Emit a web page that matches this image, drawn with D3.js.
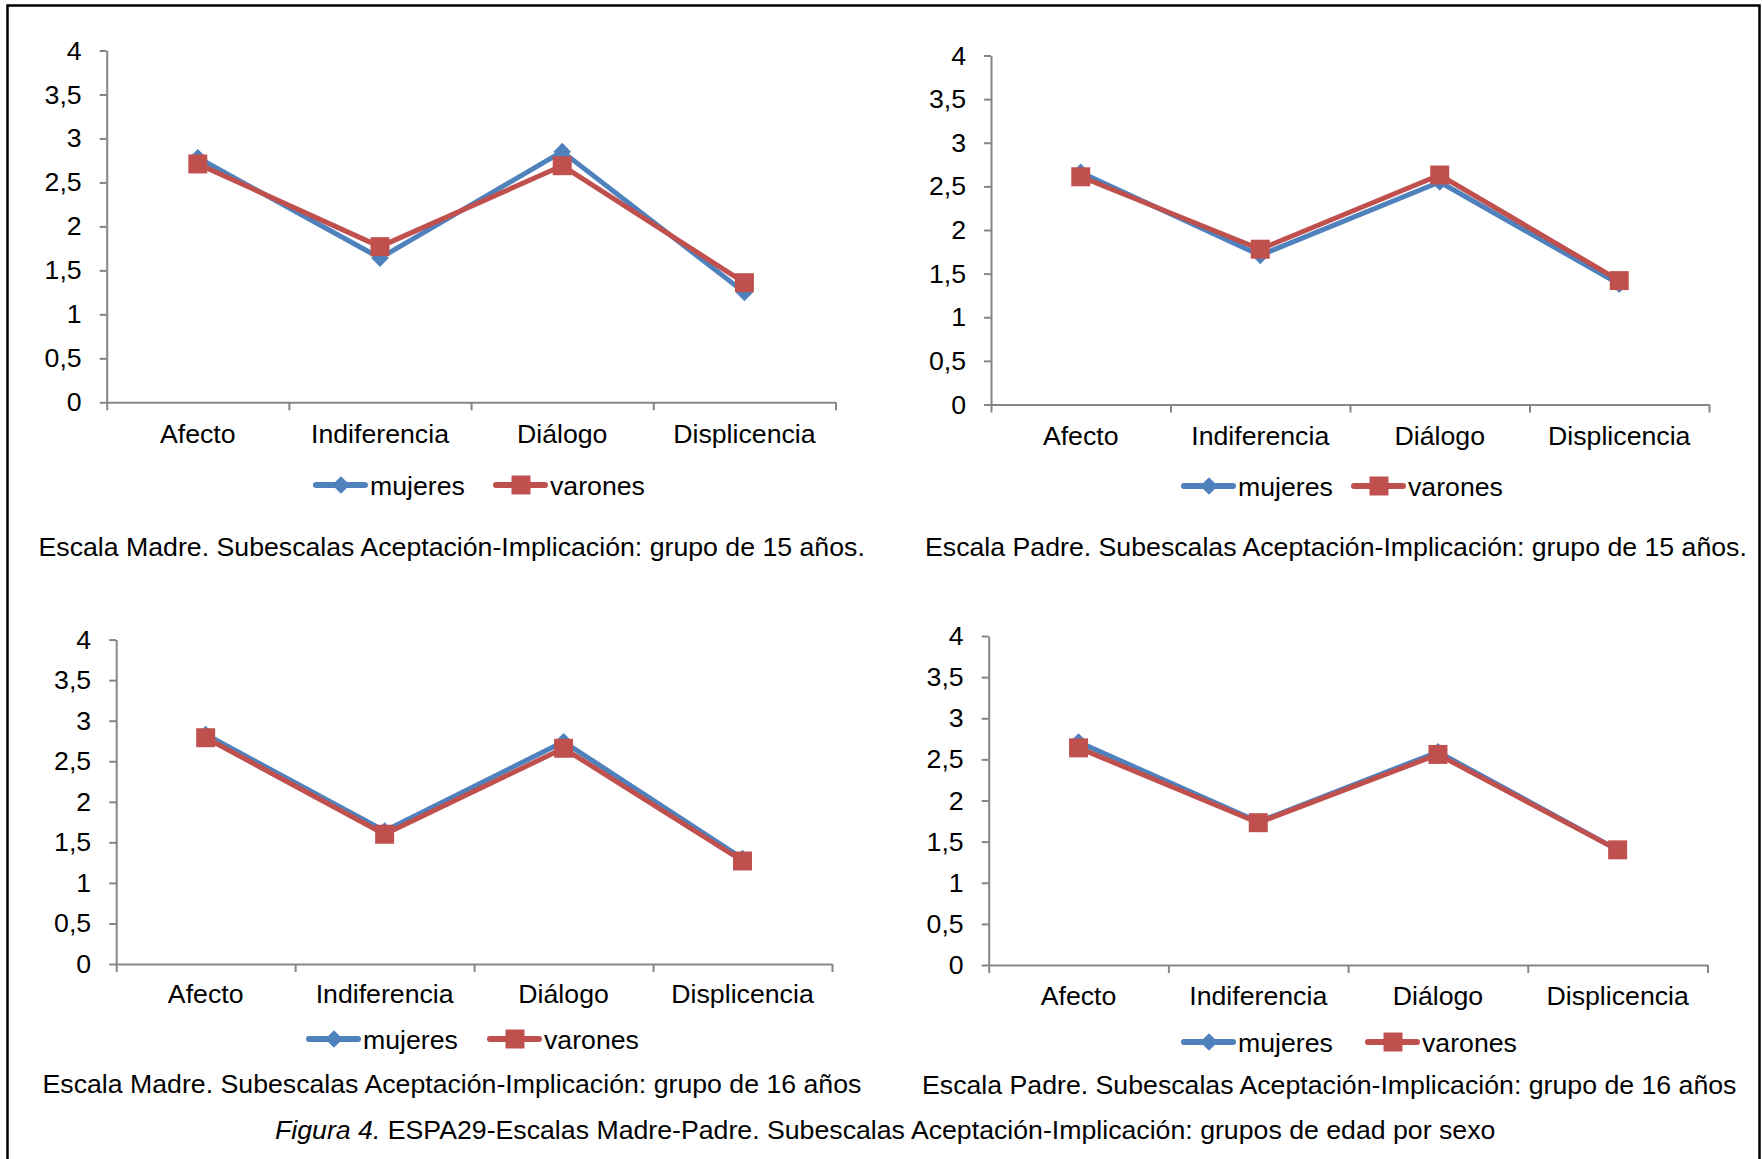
<!DOCTYPE html>
<html lang="es">
<head>
    <meta charset="UTF-8">
    <script src="https://cdn.jsdelivr.net/npm/d3@7"></script>
    <title>Figura 4</title>
    <style>
        * {
            margin: 0;
            padding: 0;
            box-sizing: border-box;
        }

        body {
            background: white;
        }

        svg text {
            font-family: "Liberation Sans", Arial, sans-serif;
            fill: black;
        }
    </style>
</head>
<body>
    <svg width="1762" height="1159"></svg>
    <script>
        let categories = ['Afecto', 'Indiferencia', 'Diálogo', 'Displicencia']
        let seriesNames = ['mujeres', 'varones']
        let yTicks = [0, 0.5, 1, 1.5, 2, 2.5, 3, 3.5, 4]

        let madre15Mujeres = [2.78, 1.64, 2.85, 1.25]
        let madre15Varones = [2.71, 1.77, 2.69, 1.36]
        let padre15Mujeres = [2.66, 1.71, 2.55, 1.38]
        let padre15Varones = [2.61, 1.78, 2.63, 1.42]
        let madre16Mujeres = [2.83, 1.64, 2.74, 1.30]
        let madre16Varones = [2.79, 1.60, 2.66, 1.27]
        let padre16Mujeres = [2.71, 1.74, 2.59, 1.40]
        let padre16Varones = [2.64, 1.73, 2.56, 1.40]

        let captions = [
            'Escala Madre. Subescalas Aceptación-Implicación: grupo de 15 años.',
            'Escala Padre. Subescalas Aceptación-Implicación: grupo de 15 años.',
            'Escala Madre. Subescalas Aceptación-Implicación: grupo de 16 años',
            'Escala Padre. Subescalas Aceptación-Implicación: grupo de 16 años'
        ]

        let colors = ['#4f81bd', '#c0504d']
        let axisColor = '#868686'
        let fontSize = 26.7

        let panels = [
            { data: [madre15Mujeres, madre15Varones], x0: 106.7, x1: 835.5, yTop: 50.5, yBottom: 402.3,
              labelY: 443, legendY: 485, legendX: [313, 493], captionX: 38.5, captionY: 556 },
            { data: [padre15Mujeres, padre15Varones], x0: 991, x1: 1709, yTop: 55.5, yBottom: 404.5,
              labelY: 445, legendY: 486, legendX: [1181, 1351], captionX: 925, captionY: 556 },
            { data: [madre16Mujeres, madre16Varones], x0: 116.2, x1: 832, yTop: 639.6, yBottom: 964,
              labelY: 1003, legendY: 1039, legendX: [306, 487], captionX: 42.5, captionY: 1093 },
            { data: [padre16Mujeres, padre16Varones], x0: 988.7, x1: 1707.5, yTop: 636, yBottom: 965,
              labelY: 1005, legendY: 1042, legendX: [1181, 1365], captionX: 922, captionY: 1094 }
        ]

        let svg = d3.select('svg')

        // outer frame (bottom edge runs past the page)
        svg.append('rect')
            .attr('x', 7.5)
            .attr('y', 5.5)
            .attr('width', 1752)
            .attr('height', 1200)
            .attr('fill', 'none')
            .attr('stroke', 'black')
            .attr('stroke-width', 2.5)

        let diamond = d3.symbol(d3.symbolDiamond2, 200)
        let square = d3.symbol(d3.symbolSquare, 360)
        let markers = [diamond, square]

        panels.forEach((p, pi) => {
            let g = svg.append('g')

            let xScale = d3.scaleBand()
                .domain(categories)
                .range([p.x0, p.x1])
                .padding(0)

            let xEdges = d3.scaleLinear()
                .domain([0, categories.length])
                .range([p.x0, p.x1])

            let yScale = d3.scaleLinear()
                .domain([0, 4])
                .range([p.yBottom, p.yTop])

            // y axis
            let yAxis = d3.axisLeft(yScale)
                .tickValues(yTicks)
                .tickFormat(d => String(d).replace('.', ','))
                .tickSize(7)
                .tickSizeOuter(0)
                .tickPadding(18)

            let ya = g.append('g')
                .attr('transform', `translate(${p.x0}, 0)`)
                .call(yAxis)
            ya.select('.domain').attr('stroke', axisColor).attr('stroke-width', 2)
            ya.selectAll('.tick line').attr('stroke', axisColor).attr('stroke-width', 2)
            ya.selectAll('.tick text')
                .attr('font-size', fontSize)
                .attr('font-family', '"Liberation Sans", Arial, sans-serif')
                .attr('fill', 'black')

            // x axis, ticks on category boundaries
            let xAxis = d3.axisBottom(xEdges)
                .tickValues(d3.range(categories.length + 1))
                .tickFormat('')
                .tickSize(8)
                .tickSizeOuter(0)

            let xa = g.append('g')
                .attr('transform', `translate(0, ${p.yBottom})`)
                .call(xAxis)
            xa.select('.domain').attr('stroke', axisColor).attr('stroke-width', 2)
            xa.selectAll('.tick line').attr('stroke', axisColor).attr('stroke-width', 2)

            g.selectAll('.cat')
                .data(categories)
                .join('text')
                .attr('class', 'cat')
                .attr('x', d => xScale(d) + xScale.bandwidth() / 2)
                .attr('y', p.labelY)
                .attr('text-anchor', 'middle')
                .attr('font-size', fontSize)
                .text(d => d)

            // series
            let line = d3.line()
                .x((d, i) => xScale(categories[i]) + xScale.bandwidth() / 2)
                .y(d => yScale(d))

            p.data.forEach((values, si) => {
                g.append('path')
                    .datum(values)
                    .attr('d', line)
                    .attr('fill', 'none')
                    .attr('stroke', colors[si])
                    .attr('stroke-width', 5)
                    .attr('stroke-linejoin', 'round')

                g.selectAll('.m' + si)
                    .data(values)
                    .join('path')
                    .attr('class', 'm' + si)
                    .attr('d', markers[si])
                    .attr('transform', (d, i) =>
                        `translate(${xScale(categories[i]) + xScale.bandwidth() / 2}, ${yScale(d)})`)
                    .attr('fill', colors[si])
            })

            // legend
            seriesNames.forEach((name, si) => {
                let lx = p.legendX[si]
                g.append('line')
                    .attr('x1', lx + 3)
                    .attr('x2', lx + 52)
                    .attr('y1', p.legendY)
                    .attr('y2', p.legendY)
                    .attr('stroke', colors[si])
                    .attr('stroke-width', 6)
                    .attr('stroke-linecap', 'round')
                g.append('path')
                    .attr('d', markers[si])
                    .attr('transform', `translate(${lx + 28}, ${p.legendY})`)
                    .attr('fill', colors[si])
                g.append('text')
                    .attr('x', lx + 57)
                    .attr('y', p.legendY + 9.5)
                    .attr('font-size', fontSize)
                    .text(name)
            })

            // caption under each chart
            g.append('text')
                .attr('x', p.captionX)
                .attr('y', p.captionY)
                .attr('font-size', fontSize)
                .text(captions[pi])
        })

        // figure caption
        let fig = svg.append('text')
            .attr('x', 275)
            .attr('y', 1139)
            .attr('font-size', fontSize)
        fig.append('tspan')
            .attr('font-style', 'italic')
            .text('Figura 4.')
        fig.append('tspan')
            .text(' ESPA29-Escalas Madre-Padre. Subescalas Aceptación-Implicación: grupos de edad por sexo')
    </script>
</body>
</html>
